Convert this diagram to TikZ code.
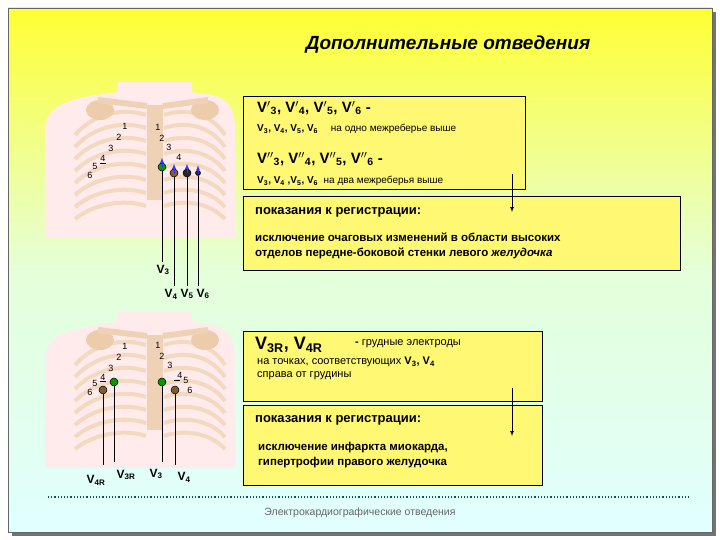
\documentclass[tikz,border=0pt]{standalone}
\usepackage{fontspec}
\setmainfont{Liberation Sans}
\begin{document}
\begin{tikzpicture}[x=1pt,y=-1pt,
  box/.style={draw=black,fill=yellow!55!white,line width=0.8pt},
  num/.style={font=\fontsize{9}{9}\selectfont,inner sep=0pt},
  lead/.style={font=\bfseries\fontsize{12}{12}\selectfont,inner sep=0pt},
  ln/.style={line width=0.7pt},
  el/.style={circle,draw=black,line width=0.5pt,minimum size=8pt,inner sep=0pt},
  txt/.style={font=\fontsize{11}{13}\selectfont,anchor=west,inner sep=0pt},
  btxt/.style={font=\bfseries\fontsize{11.5}{15}\selectfont,anchor=west,inner sep=0pt,align=left}]
\useasboundingbox (0,0) rectangle (720,540);
\fill[black!55] (12,12) rectangle (716,536);
\shade[top color=yellow!80!white,bottom color=cyan!12!white,middle color=yellow!30!green!15!white] (8,8) rectangle (712,532);
\draw[black!60,line width=0.6pt] (8,8) rectangle (712,532);
\node[font=\bfseries\itshape\fontsize{19}{19}\selectfont] (title) at (448,45) {Дополнительные отведения};
% chests
\foreach \oy in {0,230}{
  \begin{scope}[shift={(0,\oy)}]
  \fill[red!8!white] (45,238) -- (45,130) .. controls (45,105) and (70,100) .. (95,95) -- (118,92) -- (118,82) -- (192,82) -- (192,92) -- (213,95) .. controls (230,100) and (235,110) .. (235,130) -- (235,238) -- cycle;
  \foreach \i in {0,...,7}{
    \draw[orange!30!brown!30!white,line width=4pt] (146,{115+\i*13}) .. controls (125,{108+\i*13}) and (95,{112+\i*13}) .. (75,{135+\i*12});
    \draw[orange!30!brown!30!white,line width=4pt] (164,{115+\i*13}) .. controls (185,{108+\i*13}) and (210,{112+\i*13}) .. (225,{135+\i*12});
  }
  \fill[orange!30!brown!35!white] (147,105) rectangle (163,200);
  \fill[orange!30!brown!40!white] (100,110) ellipse (14 and 10);
  \fill[orange!30!brown!40!white] (205,110) ellipse (14 and 10);
  \draw[orange!30!brown!35!white,line width=6pt] (147,106) -- (98,100);
  \draw[orange!30!brown!35!white,line width=6pt] (163,106) -- (208,100);
  \end{scope}}
% upper numbers
\node[num] (a1) at (125,126) {1}; \node[num] (a2) at (119,137) {2}; \node[num] (a3) at (111,148) {3};
\node[num] (a4) at (103,158) {4}; \node[num] (a5) at (95,166) {5}; \node[num] (a6) at (90,175) {6};
\node[num] (b1) at (158,127) {1}; \node[num] (b2) at (162,138) {2}; \node[num] (b3) at (169,147) {3}; \node[num] (b4) at (179,157) {4};
\draw (100,163) -- (106,163);
\node[el,fill=green!60!black] (e3) at (162,167) {};
\node[el,fill=brown!70!black] (e4) at (174,173) {};
\node[el,fill=black!85] (e5) at (187,173) {};
\node[el,fill=black!85,minimum size=5pt] (e6) at (198,173) {};
\foreach \n in {e3,e4,e5,e6}{\draw[blue!80,-latex,line width=0.8pt] ([yshift=-4]\n.north) -- ++(0,-9);}
\node[lead] (l3) at (163,270) {V\textsubscript{3}};
\node[lead] (l4) at (171,294) {V\textsubscript{4}};
\node[lead] (l5) at (187,294) {V\textsubscript{5}};
\node[lead] (l6) at (203,294) {V\textsubscript{6}};
\draw[ln] (e3) -- (162,262); \draw[ln] (e4) -- (174,286); \draw[ln] (e5) -- (187,286); \draw[ln] (e6) -- (198,286);
% box 1
\node[box,minimum width=282pt,minimum height=93pt,anchor=north west] (box1) at (243,96) {};
\node[lead,anchor=west,font=\bfseries\fontsize{15}{15}\selectfont] (t1) at (257,108) {V$'$\textsubscript{3}, V$'$\textsubscript{4}, V$'$\textsubscript{5}, V$'$\textsubscript{6} -};
\node[txt,font=\fontsize{10}{12}\selectfont] (t2) at (257,129) {\textbf{V\textsubscript{3}, V\textsubscript{4}, V\textsubscript{5}, V\textsubscript{6}}\quad\ на одно межреберье выше};
\node[lead,anchor=west,font=\bfseries\fontsize{15}{15}\selectfont] (t3) at (257,159) {V$''$\textsubscript{3}, V$''$\textsubscript{4}, V$''$\textsubscript{5}, V$''$\textsubscript{6} -};
\node[txt,font=\fontsize{10}{12}\selectfont] (t4) at (257,181) {\textbf{V\textsubscript{3}, V\textsubscript{4} ,V\textsubscript{5}, V\textsubscript{6}}\ \ на два межреберья выше};
% box 2
\node[box,minimum width=437pt,minimum height=74pt,anchor=north west] (box2) at (243,196) {};
\node[btxt,font=\bfseries\fontsize{13}{15}\selectfont] (t5) at (255,212) {показания к регистрации:};
\node[btxt] (t6) at (255,246) {исключение очаговых изменений в области высоких\\ отделов передне-боковой стенки левого \textit{желудочка}};
\coordinate (ar1) at (512,174);
\draw[ln,-latex] (ar1) -- (512,212);
% lower numbers
\node[num] (c1) at (125,346) {1}; \node[num] (c2) at (119,357) {2}; \node[num] (c3) at (111,368) {3};
\node[num] (c4) at (103,377) {4}; \node[num] (c5) at (95,383) {5}; \node[num] (c6) at (90,392) {6};
\draw (100,381) -- (106,381);
\node[num] (d1) at (158,345) {1}; \node[num] (d2) at (162,356) {2}; \node[num] (d3) at (170,365) {3};
\node[num] (d4) at (180,375) {4}; \node[num] (d5) at (186,380) {5}; \node[num] (d6) at (190,390) {6};
\draw (174,380) -- (180,380);
\node[el,fill=green!60!black] (f3r) at (114,382) {};
\node[el,fill=brown!70!black] (f4r) at (103,390) {};
\node[el,fill=green!60!black] (f3) at (162,382) {};
\node[el,fill=brown!70!black] (f4) at (175,390) {};
\node[lead] (m4r) at (96,480) {V\textsubscript{4R}};
\node[lead] (m3r) at (126,475) {V\textsubscript{3R}};
\node[lead] (m3) at (156,474) {V\textsubscript{3}};
\node[lead] (m4) at (184,477) {V\textsubscript{4}};
\draw[ln] (f4r) -- (103,465); \draw[ln] (f3r) -- (114,462); \draw[ln] (f3) -- (162,462); \draw[ln] (f4) -- (175,465);
% box 3
\node[box,minimum width=299pt,minimum height=70pt,anchor=north west] (box3) at (243,331) {};
\node[lead,anchor=west,font=\bfseries\fontsize{18}{18}\selectfont] (u1) at (255,345) {V\textsubscript{3R}, V\textsubscript{4R}};
\node[txt] (u2) at (355,344) {\textbf{-} грудные электроды};
\node[txt,align=left,anchor=north west] (u3) at (257,357) {на точках, соответствующих \textbf{V\textsubscript{3}, V\textsubscript{4}}\\справа от грудины};
% box 4
\node[box,minimum width=299pt,minimum height=80pt,anchor=north west] (box4) at (243,405) {};
\node[btxt,font=\bfseries\fontsize{13}{15}\selectfont] (u4) at (255,420) {показания к регистрации:};
\node[btxt] (u5) at (258,455) {исключение инфаркта миокарда,\\гипертрофии правого желудочка};
\coordinate (ar2) at (512,388);
\draw[ln,-latex] (ar2) -- (512,436);
% footer
\draw[teal!70!black,dotted,line width=1.2pt] (48,497) -- (690,497);
\node[font=\fontsize{10.5}{10.5}\selectfont,text=black!60] (foot) at (360,513) {Электрокардиографические отведения};
\end{tikzpicture}
\end{document}
